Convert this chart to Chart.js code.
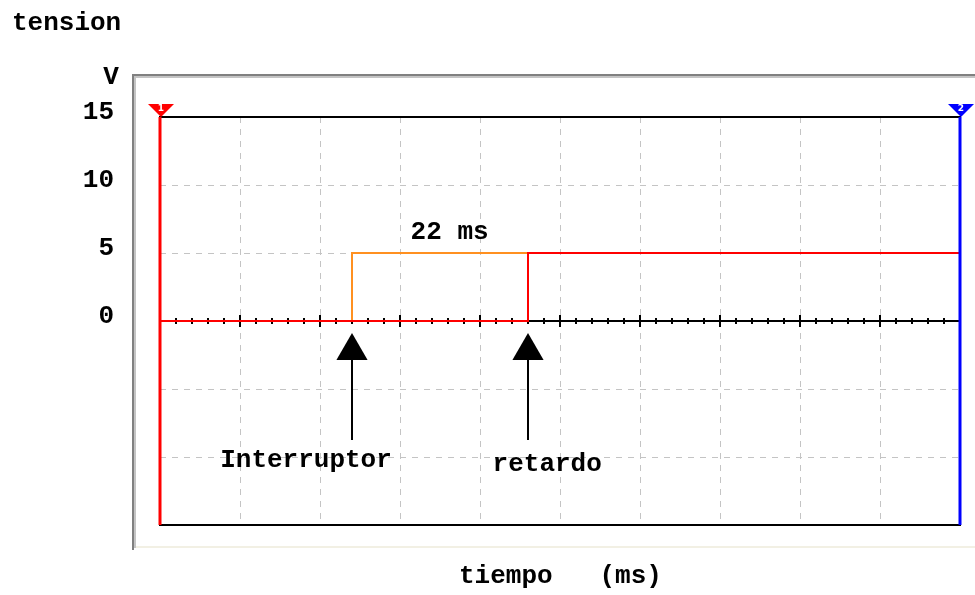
<!DOCTYPE html>
<html>
<head>
<meta charset="utf-8">
<title>tension</title>
<script src="https://cdn.jsdelivr.net/npm/chart.js@4.4.0/dist/chart.umd.min.js"></script>
<style>
	body { margin: 0; background: #fff; }
	#wrap { width: 975px; height: 595px; }
</style>
</head>
<body>
<div id="wrap"><canvas id="osc" width="975" height="595"></canvas></div>
<script>
// escalas
var tiempoMin = 0, tiempoMax = 100, tiempoPaso = 10, tiempoMenor = 2;
var tensionMin = -15, tensionMax = 15, tensionPaso = 5;

// senal del interruptor (naranja) y senal con retardo (roja)
var tiempoInterruptor = [0, 24, 24, 46];
var tensionInterruptor = [0, 0, 5, 5];
var tiempoRetardo = [0, 46, 46, 100];
var tensionRetardo = [0, 0, 5, 5];

// cursores 1 y 2
var cursorTiempo = [0, 100];
var cursorNombre = ['1', '2'];

// flechas (punta, base)
var flechaTiempo = [24, 46];
var flechaTension = [-2.2, -8.75];

// textos
var notaTexto = ['22 ms', 'Interruptor', 'retardo'];
var notaTiempo = [36.2, 18.25, 48.4];
var notaTension = [6.0, -10.75, -11.0];

var fuente = "bold 26px 'Liberation Mono'";

function puntos(xs, ys) {
	return xs.map(function (x, i) { return { x: x, y: ys[i] }; });
}

function cursor(t, color) {
	return {
		data: [{ x: t, y: tensionMin }, { x: t, y: tensionMax }],
		showLine: true,
		borderColor: color,
		borderWidth: 3,
		pointRadius: 0,
		clip: false
	};
}

function flecha(t) {
	return {
		data: [{ x: t, y: flechaTension[0] }, { x: t, y: flechaTension[1] }],
		showLine: true,
		borderColor: '#000',
		borderWidth: 2,
		pointRadius: [18, 0],
		pointStyle: 'triangle',
		pointBackgroundColor: '#000',
		pointBorderWidth: 0
	};
}

var osciloscopio = {
	id: 'osciloscopio',
	beforeDraw: function (chart) {
		var ctx = chart.ctx;
		ctx.save();
		ctx.fillStyle = '#fff';
		ctx.fillRect(0, 0, chart.width, chart.height);
		// marco gris del panel
		ctx.fillStyle = '#f2f0e4';
		ctx.fillRect(132, 546, 843, 2);
		ctx.fillStyle = '#808080';
		ctx.fillRect(132, 74, 843, 2);
		ctx.fillRect(132, 74, 2, 476);
		ctx.fillStyle = '#c4c4c4';
		ctx.fillRect(134, 76, 841, 2);
		ctx.fillRect(134, 76, 2, 472);
		ctx.restore();
	},
	beforeDatasetsDraw: function (chart) {
		var ctx = chart.ctx, a = chart.chartArea;
		var sx = chart.scales.x, sy = chart.scales.y;
		ctx.save();
		ctx.strokeStyle = '#000';
		ctx.lineWidth = 2;
		ctx.strokeRect(a.left, a.top, a.right - a.left, a.bottom - a.top);
		// eje de cero con marcas
		var y0 = sy.getPixelForValue(0);
		ctx.beginPath();
		ctx.moveTo(a.left, y0);
		ctx.lineTo(a.right, y0);
		for (var t = tiempoMin; t <= tiempoMax; t += tiempoMenor) {
			var px = sx.getPixelForValue(t);
			var h = (t % tiempoPaso === 0) ? 6 : 3;
			ctx.moveTo(px, y0 - h);
			ctx.lineTo(px, y0 + h);
		}
		ctx.stroke();
		ctx.restore();
	},
	afterDatasetsDraw: function (chart) {
		var ctx = chart.ctx;
		var sx = chart.scales.x, sy = chart.scales.y;
		var colores = ['#ff0000', '#0000ff'];
		ctx.save();
		// marcadores de los cursores
		var yTop = sy.getPixelForValue(tensionMax);
		cursorTiempo.forEach(function (t, i) {
			var px = sx.getPixelForValue(t) + 1;
			ctx.fillStyle = colores[i];
			ctx.beginPath();
			ctx.moveTo(px - 13, yTop - 13);
			ctx.lineTo(px + 13, yTop - 13);
			ctx.lineTo(px, yTop);
			ctx.closePath();
			ctx.fill();
			ctx.fillStyle = '#fff';
			ctx.font = "bold 9px 'DejaVu Sans'";
			ctx.textAlign = 'center';
			ctx.textBaseline = 'middle';
			ctx.fillText(cursorNombre[i], px, yTop - 8);
		});
		// notas
		ctx.fillStyle = '#000';
		ctx.font = fuente;
		ctx.textAlign = 'center';
		ctx.textBaseline = 'alphabetic';
		notaTexto.forEach(function (s, i) {
			ctx.fillText(s, sx.getPixelForValue(notaTiempo[i]), sy.getPixelForValue(notaTension[i]));
		});
		ctx.fillText('V', 111, 84);
		ctx.textAlign = 'left';
		ctx.fillText('tension', 12, 30);
		ctx.fillText('tiempo   (ms)', 459, 583);
		ctx.restore();
	}
};

var ctxL = document.getElementById('osc').getContext('2d');
var osc = new Chart(ctxL, {
	type: 'scatter',
	data: {
		datasets: [
			cursor(cursorTiempo[0], '#ff0000'),
			cursor(cursorTiempo[1], '#0000ff'),
			{
				label: 'retardo',
				data: puntos(tiempoRetardo, tensionRetardo),
				showLine: true,
				borderColor: '#ff0000',
				borderWidth: 2,
				pointRadius: 0
			},
			{
				label: 'Interruptor',
				data: puntos(tiempoInterruptor, tensionInterruptor),
				showLine: true,
				borderColor: '#ff9020',
				borderWidth: 2,
				pointRadius: 0
			},
			flecha(flechaTiempo[0]),
			flecha(flechaTiempo[1])
		]
	},
	options: {
		responsive: false,
		animation: false,
		layout: {
			autoPadding: false,
			padding: { left: 40, right: 15, top: 117, bottom: 70 }
		},
		plugins: {
			legend: { display: false },
			tooltip: { enabled: false }
		},
		scales: {
			x: {
				type: 'linear',
				min: tiempoMin,
				max: tiempoMax,
				ticks: { display: false, stepSize: tiempoPaso },
				grid: { color: '#c4c4c4', lineWidth: 1, drawTicks: false },
				border: { display: false, dash: [6, 6] },
				afterFit: function (scale) { scale.height = 0; }
			},
			y: {
				min: tensionMin,
				max: tensionMax,
				ticks: {
					stepSize: tensionPaso,
					padding: 46,
					labelOffset: -5,
					color: '#000',
					font: { family: 'Liberation Mono', size: 26, weight: 'bold' },
					callback: function (v) { return v >= 0 ? v : ''; }
				},
				grid: { color: '#c4c4c4', lineWidth: 1, drawTicks: false },
				border: { display: false, dash: [6, 6] },
				afterFit: function (scale) { scale.width = 120; }
			}
		}
	},
	plugins: [osciloscopio]
});
</script>
</body>
</html>
